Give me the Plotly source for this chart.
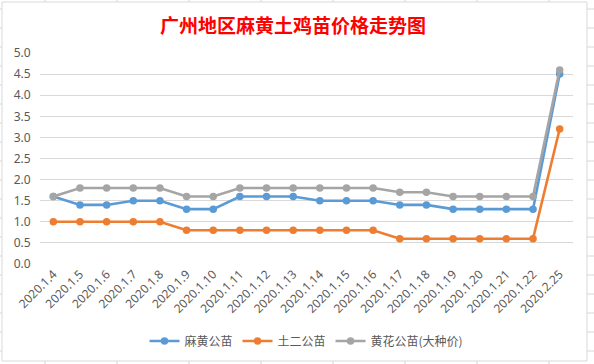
import plotly.graph_objects as go

categories = ["2020.1.4", "2020.1.5", "2020.1.6", "2020.1.7", "2020.1.8", "2020.1.9",
              "2020.1.10", "2020.1.11", "2020.1.12", "2020.1.13", "2020.1.14", "2020.1.15",
              "2020.1.16", "2020.1.17", "2020.1.18", "2020.1.19", "2020.1.20", "2020.1.21",
              "2020.1.22", "2020.2.25"]
mahuang = [1.6, 1.4, 1.4, 1.5, 1.5, 1.3, 1.3, 1.6, 1.6, 1.6, 1.5, 1.5, 1.5, 1.4, 1.4,
           1.3, 1.3, 1.3, 1.3, 4.5]
tuer = [1.0, 1.0, 1.0, 1.0, 1.0, 0.8, 0.8, 0.8, 0.8, 0.8, 0.8, 0.8, 0.8, 0.6, 0.6,
        0.6, 0.6, 0.6, 0.6, 3.2]
huanghua = [1.6, 1.8, 1.8, 1.8, 1.8, 1.6, 1.6, 1.8, 1.8, 1.8, 1.8, 1.8, 1.8, 1.7, 1.7,
            1.6, 1.6, 1.6, 1.6, 4.6]
series_names = ["麻黄公苗", "土二公苗", "黄花公苗(大种价)"]
colors = ["#5B9BD5", "#ED7D31", "#A5A5A5"]
y_ticks = [0.0, 0.5, 1.0, 1.5, 2.0, 2.5, 3.0, 3.5, 4.0, 4.5, 5.0]

W, H = 594, 364
L, R, T, B = 40, 573, 53, 264  # plot area in pixels

fig = go.Figure()
for name, vals, c in zip(series_names, [mahuang, tuer, huanghua], colors):
    fig.add_trace(go.Scatter(x=categories, y=vals, name=name, mode="lines+markers",
                             line=dict(color=c, width=2.6),
                             marker=dict(color=c, size=7.5)))

def px(x):
    return (x - L) / (R - L)

def py(y):
    return (B - y) / (B - T)

shapes = []
grid_c = "#D6D6D6"
# spreadsheet background lines outside chart frame
for xv in [45, 117, 189, 261, 333, 405, 477, 549]:
    shapes.append(dict(type="line", xref="paper", yref="paper", x0=px(xv), x1=px(xv),
                       y0=py(0), y1=py(2), line=dict(color=grid_c, width=1)))
    shapes.append(dict(type="line", xref="paper", yref="paper", x0=px(xv), x1=px(xv),
                       y0=py(361), y1=py(364), line=dict(color=grid_c, width=1)))
for yv in range(9, 362, 19):
    shapes.append(dict(type="line", xref="paper", yref="paper", x0=px(0), x1=px(2),
                       y0=py(yv), y1=py(yv), line=dict(color=grid_c, width=1)))
    shapes.append(dict(type="line", xref="paper", yref="paper", x0=px(587), x1=px(594),
                       y0=py(yv), y1=py(yv), line=dict(color=grid_c, width=1)))
# chart frame
shapes.append(dict(type="rect", xref="paper", yref="paper", x0=px(2), x1=px(587),
                   y0=py(361), y1=py(2), line=dict(color="#D9D9D9", width=1),
                   fillcolor="rgba(0,0,0,0)", layer="below"))

fig.update_layout(
    width=W, height=H,
    margin=dict(l=L, r=W - R, t=T, b=H - B, pad=0, autoexpand=False),
    paper_bgcolor="white", plot_bgcolor="white",
    font=dict(family="Noto Sans CJK SC, Noto Sans, sans-serif", color="#595959", size=12),
    title=dict(text="<b>广州地区麻黄土鸡苗价格走势图</b>", x=293 / W, xref="container",
               xanchor="center", y=1 - 26 / H, yanchor="middle", automargin=False,
               font=dict(family="Noto Sans CJK SC", color="#FF0000", size=19)),
    xaxis=dict(type="category", range=[-0.5, len(categories) - 0.5], tickangle=-45,
               showgrid=False, zeroline=False, showline=False, ticks="", automargin=False,
               tickfont=dict(size=12, color="#595959", family="Noto Sans, sans-serif")),
    yaxis=dict(range=[0, 5], tickvals=y_ticks, ticktext=[f"{v:.1f}" for v in y_ticks],
               showgrid=True, gridcolor="#D9D9D9", gridwidth=1, zeroline=False,
               showline=False, ticks="outside", ticklen=6, tickcolor="rgba(0,0,0,0)",
               automargin=False,
               tickfont=dict(size=12, color="#595959", family="Noto Sans, sans-serif")),
    legend=dict(orientation="h", x=0.5, xanchor="center", y=py(341), yanchor="middle",
                font=dict(size=12, color="#595959"), itemwidth=30,
                bgcolor="rgba(0,0,0,0)"),
    shapes=shapes,
    showlegend=True,
)

fig.write_html("out.html", config={"displayModeBar": False},
               post_script="document.body.style.margin='0';")
